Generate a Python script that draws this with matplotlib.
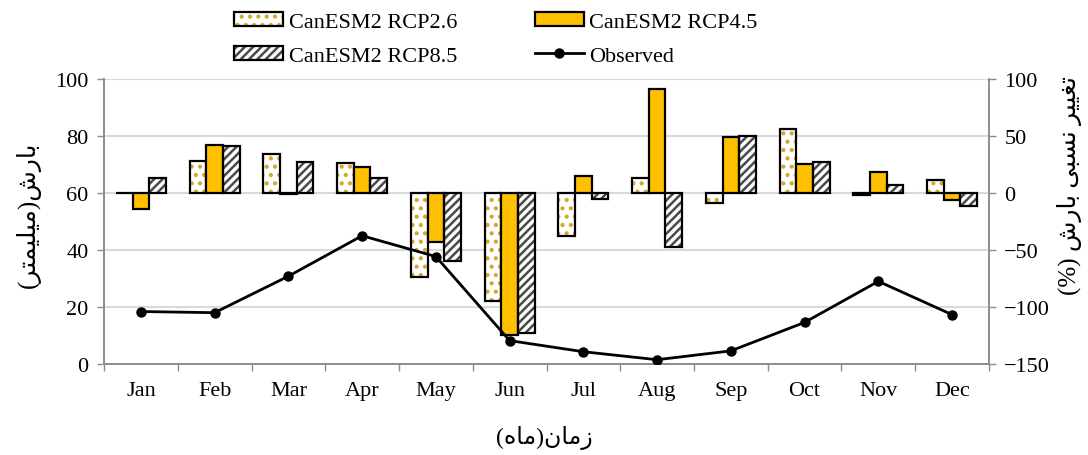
import matplotlib
matplotlib.use("Agg")
import matplotlib.pyplot as plt
import numpy as np
from matplotlib.patches import Patch
from matplotlib.lines import Line2D
from matplotlib.legend_handler import HandlerTuple

months = ["Jan", "Feb", "Mar", "Apr", "May", "Jun", "Jul", "Aug", "Sep", "Oct", "Nov", "Dec"]
rcp26 = [0, 28, 34, 26, -74, -95, -38, 13, -9, 56, -2, 11]
rcp45 = [-14, 42, -1, 23, -43, -125, 15, 91, 49, 25, 18, -6]
rcp85 = [13, 41, 27, 13, -60, -123, -5, -47, 50, 27, 7, -11]
observed = [18.4, 18.0, 30.8, 45.0, 37.7, 8.2, 4.3, 1.5, 4.6, 14.6, 29.0, 17.3]
series_names = ["CanESM2 RCP2.6", "CanESM2 RCP4.5", "CanESM2 RCP8.5", "Observed"]

# Persian labels (pre-shaped, visual order)
ylabel_left = "(" + "\uFEAE\uFE98\uFEE4\uFEF4\uFEE0\uFEF4\uFEE3" + ")" + "\uFEB5\uFEAD\uFE8E\uFE91"
ylabel_right = "(%) " + "\uFEB5\uFEAD\uFE8E\uFE91" + " " + "\uFEF0\uFE92\uFEB4\uFEE7" + " " + "\uFEAE\uFEF4\uFEF4\uFED0\uFE97"
xlabel_txt = "(" + "\uFEE9\uFE8E\uFEE3" + ")" + "\uFEE5\uFE8E\uFEE3\uFEAF"

plt.rcParams['font.family'] = ['Liberation Serif', 'DejaVu Sans']
plt.rcParams['font.size'] = 16
plt.rcParams['hatch.linewidth'] = 1.8

GOLD = "#FFC000"
DOT = "#D4A62A"
STRIPE = "#4a4a4a"
GRAY = "#8c8c8c"

fig = plt.figure(figsize=(10.88, 4.56), dpi=100)
ax = fig.add_axes([0.0956, 0.1996, 0.909 - 0.0956, 0.8246 - 0.1996])
ax2 = ax.twinx()

x = np.arange(len(months))
w = 0.225
lw = 1.6

# RCP2.6: white with gold dots
ax2.bar(x - w, rcp26, w, color="white", edgecolor=DOT, hatch="..", linewidth=0, zorder=2)
ax2.bar(x - w, rcp26, w, fill=False, edgecolor="black", linewidth=lw, zorder=3)
# RCP4.5: solid gold
ax2.bar(x, rcp45, w, color=GOLD, edgecolor="black", linewidth=lw, zorder=3)
# RCP8.5: gray stripes
ax2.bar(x + w, rcp85, w, color="white", edgecolor=STRIPE, hatch="////", linewidth=0, zorder=2)
ax2.bar(x + w, rcp85, w, fill=False, edgecolor="black", linewidth=lw, zorder=3)

ax2.set_ylim(-150, 100)
ax2.set_yticks([-150, -100, -50, 0, 50, 100])
ax2.yaxis.grid(True, color="#d9d9d9", linewidth=1.5, zorder=0)
ax2.set_axisbelow(True)

ax.plot(x, observed, color="black", linewidth=2, marker="o", markersize=6.5, zorder=5)
ax.set_ylim(0, 100)
ax.set_yticks([0, 20, 40, 60, 80, 100])
ax.set_xlim(-0.5, 11.5)
ax.set_xticks(x)
ax.set_xticklabels(months)
ax.set_xticks(np.arange(-0.5, 12, 1), minor=True)
ax.tick_params(axis="x", which="major", length=0, pad=12)
ax.tick_params(axis="x", which="minor", length=5, color=GRAY, width=1)
ax.tick_params(axis="y", length=5, color=GRAY, width=1, pad=6)
ax2.tick_params(axis="y", length=5, color=GRAY, width=1, pad=6)

ax.set_zorder(ax2.get_zorder() + 1)
ax.patch.set_visible(False)

for a in (ax, ax2):
    a.spines["top"].set_visible(False)
    for s in ("left", "right", "bottom"):
        a.spines[s].set_color(GRAY)
        a.spines[s].set_linewidth(1.2)

fig.text(0.026, 0.528, ylabel_left, rotation=90, ha="center", va="center", fontsize=18)
fig.text(0.983, 0.594, ylabel_right, rotation=90, ha="center", va="center", fontsize=18)
fig.text(0.5, 0.04, xlabel_txt, ha="center", va="center", fontsize=17)

h26 = (Patch(facecolor="white", edgecolor=DOT, hatch="..", linewidth=0),
       Patch(fill=False, edgecolor="black", linewidth=lw))
h45 = Patch(facecolor=GOLD, edgecolor="black", linewidth=lw)
h85 = (Patch(facecolor="white", edgecolor=STRIPE, hatch="////", linewidth=0),
       Patch(fill=False, edgecolor="black", linewidth=lw))
hobs = Line2D([], [], color="black", linewidth=2, marker="o", markersize=6.5)

fig.legend([h26, h85, h45, hobs], [series_names[0], series_names[2], series_names[1], series_names[3]],
           handler_map={tuple: HandlerTuple(ndivide=1, pad=0)},
           ncol=2, loc="upper left", bbox_to_anchor=(0.197, 1.015), frameon=False,
           handlelength=2.2, handleheight=0.6, handletextpad=0.25, columnspacing=3.5,
           labelspacing=0.62, fontsize=16)

fig.savefig("out.png", dpi=100)
